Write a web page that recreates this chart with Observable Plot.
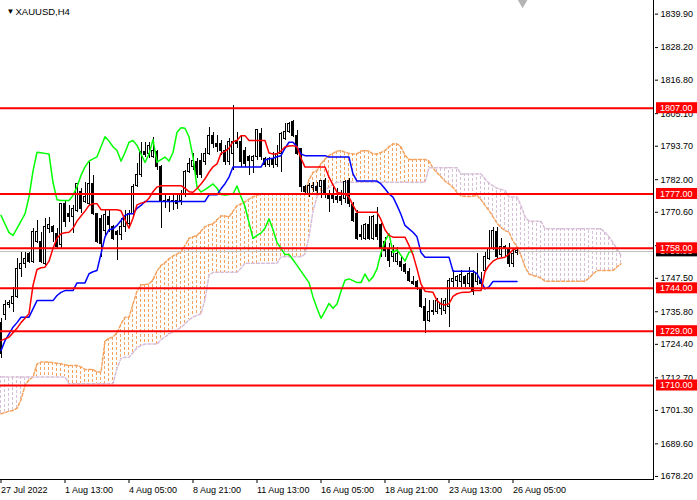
<!DOCTYPE html>
<html><head><meta charset="utf-8">
<script src="https://cdn.jsdelivr.net/npm/d3@7"></script>
<script src="https://cdn.jsdelivr.net/npm/@observablehq/plot@0.6"></script>
<style>
html,body{margin:0;padding:0;background:#fff;}
#chart svg{display:block}
</style></head><body><div id="chart"></div>
<script>
const symbolTitle = "XAUUSD,H4";

const opens = [1732,1734.5,1738,1738.6,1740.9,1750.8,1752.6,1756.1,1753.1,1760.1,1760.1,1752.6,1764.8,1765.4,1763.1,1759,1773.6,1770.1,1768.9,1771.2,1777.6,1774.1,1773.6,1780.6,1770.1,1768.3,1764.2,1768.9,1765.4,1763.6,1762.5,1765.4,1766.6,1770.1,1779.9,1783.5,1791.8,1791,1789.9,1791.6,1786.4,1774.7,1775,1774.7,1774.7,1774.7,1776.5,1784.6,1786.4,1788.1,1788.7,1788.1,1791,1797.4,1794.5,1794.5,1792.2,1788.1,1791,1795.7,1795.1,1792.2,1789.9,1788.7,1789.9,1798,1789.3,1787,1789.3,1787,1791,1796.3,1798.6,1802.1,1797.4,1792.8,1779.4,1776.5,1779.2,1779.4,1779.4,1781.7,1776.5,1776.5,1776.1,1775.9,1775.3,1781.7,1773,1770.1,1762.5,1761.3,1766,1761.3,1766,1766,1760.1,1757.8,1754.9,1753.1,1753.1,1752,1749.6,1746.1,1746.1,1743.8,1737.4,1732.7,1735.6,1735.6,1736.8,1736.2,1737.4,1746.1,1746.7,1746.1,1747.9,1745.6,1749.1,1746.1,1746.7,1750.2,1754.3,1757.8,1763.6,1755.5,1758.4,1757.8,1752.6,1756.4];
const highs = [1733.5,1739.7,1739.7,1744.4,1754.3,1756.6,1756.6,1756.6,1764.8,1767.7,1763.6,1768.3,1768.9,1766,1764.8,1773.6,1774.7,1773,1773,1780.6,1778.8,1781.1,1788.1,1783.5,1770.1,1769.5,1771.2,1771.2,1766,1764.2,1768.3,1771.2,1771.2,1780.2,1787.5,1795.1,1795.1,1795.1,1796.9,1792.2,1787,1776.5,1776,1776.5,1777,1778.2,1785.2,1789.3,1791.1,1789.3,1791.1,1792.8,1800.4,1798.6,1797.4,1795.7,1793.9,1796.3,1808.1,1798.6,1797.4,1793.4,1790.5,1790.5,1799.2,1799.8,1789.9,1789.9,1791.6,1793.9,1798.6,1801.5,1802.1,1802.7,1799.2,1792.8,1779.9,1780.6,1781.1,1781.1,1781.7,1782.3,1778.2,1779.4,1778.8,1778.2,1781.7,1782.3,1774.1,1771.2,1766,1766.6,1769,1769.5,1772.4,1766.6,1761.9,1759.6,1759,1758.4,1754.9,1752.6,1750.8,1748,1746.7,1744.4,1740.3,1739.7,1739.7,1740.3,1740.3,1740.3,1747.3,1750.2,1748.5,1750.2,1748.5,1751.4,1750.2,1756.1,1749.6,1756.6,1764.2,1765.4,1765.4,1761.3,1759,1759.6,1757.8,1757.8];
const lows = [1719.4,1732.7,1737,1735.6,1740.3,1747.9,1750.8,1752.6,1752.6,1759.6,1752.6,1752,1763.1,1760.1,1757.6,1757.8,1765.4,1767.1,1763.1,1770.6,1770.1,1773.6,1773,1769.5,1759.6,1754.9,1762.5,1763.6,1760.7,1753.7,1760.7,1763.6,1764.8,1768.9,1779.4,1782.9,1789.9,1789.3,1789.3,1785.2,1764.8,1771.8,1770.5,1771.2,1771.5,1773,1775.9,1784,1785.2,1782.3,1782.3,1786.8,1790.4,1792.8,1791.6,1790.4,1787,1787,1785.2,1792.8,1786.4,1786.4,1783.5,1784,1788.7,1788.7,1786.4,1786.4,1785.8,1786.4,1784.6,1795.7,1798,1796.9,1790.4,1777.6,1777,1775.9,1777.6,1776.5,1775.3,1775.3,1770.6,1773.6,1773.6,1773,1773.6,1772.4,1767.1,1760.7,1760.7,1760.7,1760.7,1760.7,1760.7,1754.9,1754.9,1751.4,1753,1752,1750,1749,1746.1,1745,1743.2,1736.8,1728.1,1732.1,1734.5,1735,1734.5,1735,1730.4,1744.4,1744.4,1744.4,1744.4,1744.4,1741.5,1745,1744.4,1749.6,1753.7,1757.2,1754.3,1754.9,1754.9,1751.4,1751.4,1755.5];
const closes = [1721,1738,1738.8,1740.9,1750.8,1752.6,1754.3,1753.1,1763.6,1763.6,1753.1,1765.4,1766,1763.6,1758.4,1773.6,1767.1,1768.9,1771.8,1780.6,1771.8,1775.9,1780.6,1770.1,1760.1,1759.6,1769.5,1766,1761.3,1762.5,1765.4,1768.3,1770.1,1779.6,1783.5,1791.6,1790.5,1793.9,1792.2,1786.4,1774.7,1774.1,1774.1,1774.1,1773.6,1776.5,1784.6,1787.5,1788.7,1783.5,1783.5,1791,1797.4,1794.5,1793.4,1792.2,1788.1,1795.1,1795.1,1794.5,1788.1,1787.5,1788.7,1789.9,1799.2,1789.9,1787,1789.3,1787,1791,1798,1798.6,1801.5,1797.4,1791,1779.4,1777.6,1779.9,1779.9,1778.2,1781.7,1776.5,1775.3,1775.3,1775,1774.7,1781.1,1773.6,1767.7,1761.3,1761.9,1766,1761.3,1768.9,1761.9,1757.8,1757.2,1753.7,1756.6,1756.1,1751.4,1749.6,1746.7,1745.6,1744.4,1737.4,1732.7,1735.6,1736.2,1739.7,1738.6,1739.7,1746.7,1747.3,1747.9,1748.5,1745.6,1749.1,1742.6,1749.1,1745.6,1754.9,1757.8,1764.2,1754.9,1758.4,1757.8,1752.6,1756.1,1756.9];

const tenkan = [1725.7,1726.3,1726.9,1728.5,1730,1732,1733.5,1735.1,1745,1750.6,1751.2,1751.4,1753.5,1758,1761.5,1763.1,1763.4,1763.6,1765,1767.5,1769.3,1771,1773,1773.6,1773.6,1771.5,1771.5,1771.5,1771.5,1771.5,1771.1,1768,1765,1768.5,1773.2,1773.8,1774.1,1775.5,1777.8,1779.4,1779.9,1779.9,1779.9,1779.9,1779.9,1779.9,1779,1777.8,1777.6,1778.9,1780.5,1782.3,1784.6,1786.5,1787.5,1791.2,1791.9,1793,1795.3,1795.7,1797.4,1797.4,1795.7,1795.7,1795.7,1795.7,1795.7,1791.3,1791,1791,1792,1793.4,1793.8,1793.9,1793.5,1789.5,1786.4,1786.4,1786.4,1786.4,1786.4,1786.4,1782.9,1780.2,1777.6,1777.3,1777,1775.9,1773,1770.6,1770.6,1770.6,1770.6,1770.6,1770.6,1768,1764.5,1762.5,1761.9,1761.9,1761.9,1761.9,1759,1755.8,1750.8,1745.5,1743,1742.8,1742.6,1739.7,1738.5,1738.2,1738.6,1741.2,1742.1,1742.5,1742.6,1742.6,1743.2,1743.2,1743.2,1749.8,1752,1753.5,1754.3,1754.6,1754.9,1756,1757.5,1758];
const kijun = [1722.2,1725.7,1728,1730.4,1732,1733.9,1733.9,1733.9,1736.8,1739.7,1739.7,1739.7,1739.7,1739.7,1741.5,1742.6,1743.2,1743.2,1743.2,1745.9,1745.9,1745.9,1749.1,1749.8,1750.2,1756.1,1762,1764.5,1764.8,1766,1767.7,1769.5,1770.1,1770.1,1772,1773,1774.4,1774.4,1774.4,1774.4,1774.4,1774.4,1774.4,1774.4,1774.4,1774.4,1774.4,1774.4,1774.4,1774.4,1774.4,1774.4,1776.7,1776.7,1776.7,1778.8,1780.6,1782.9,1786.4,1786.4,1786.4,1786.4,1786.4,1786.4,1786.4,1786.4,1788.9,1789.3,1789.5,1790,1790.4,1793,1795.1,1795.1,1793.5,1791,1790.4,1790.4,1790.4,1790.4,1790.4,1790.4,1789.9,1789.9,1789.9,1789.9,1789.9,1789.9,1784,1781.5,1781.5,1781.5,1781.5,1781.5,1781.5,1780.5,1778.8,1777,1775.9,1773,1769.8,1766,1764.8,1763.6,1762,1756.5,1754.9,1754.9,1754.9,1754.9,1754.9,1754.9,1754.9,1750,1750,1750,1750,1750,1750,1749.1,1746.5,1743.8,1744.5,1746.4,1746.4,1746.4,1746.4,1746.4,1746.4,1746.4];
const chikou = [1769.5,1766.5,1763.5,1762.5,1765,1767.5,1770,1776,1785,1791.6,1791.4,1791.2,1791,1781,1775,1774.7,1774.7,1774.7,1776.5,1779.5,1783.5,1786.5,1788.5,1789.3,1790,1793.5,1797,1795.5,1793.5,1792.2,1788.5,1791.5,1795.1,1795.7,1794,1791,1788,1791,1796,1788.1,1789,1789.9,1788.5,1791.5,1798.6,1800.2,1800,1797,1790,1779.4,1777.7,1778.5,1779.5,1780.5,1779,1776.8,1776.6,1776.8,1777,1779.8,1776,1772.6,1767,1761.5,1762.5,1763.3,1765,1768.3,1764.5,1760,1758,1755.8,1755.8,1754,1752,1750,1748,1746,1741,1737,1733.5,1736,1738.7,1737,1738.5,1743,1746.8,1747.3,1746.7,1746,1746,1749,1746.5,1748,1750.8,1756.5,1760.5,1763.1,1756.5,1757.5,1755.5,1753.5,1756.6,1757];
const senkouA = [1700.1,1700.5,1701,1701.3,1702,1705,1710,1712,1713,1717.5,1718.2,1718.2,1718.2,1718,1717.8,1717.6,1717.3,1717,1717,1717,1716.5,1715.6,1715.6,1715.6,1714.7,1714.7,1725.5,1726.6,1726.9,1728.5,1731.5,1733.9,1733.9,1738.5,1743,1745.2,1745.3,1745.5,1747,1750,1752,1753,1754.3,1755.3,1756,1756.8,1759,1761.5,1762,1762.5,1764,1765.5,1766.2,1766.6,1768,1769.3,1769.3,1769,1771,1772.9,1773.5,1774.2,1775.2,1776,1776.5,1777,1777,1777,1777,1777,1777,1777,1777,1777,1777,1777,1777,1782,1784.5,1785.2,1787.5,1789.2,1790.5,1791.2,1792,1792.2,1791.6,1791.2,1791,1791,1792,1792.2,1792,1791,1791,1791.5,1792.2,1793.5,1794.5,1794.5,1793.5,1790.5,1789.1,1789.1,1789.1,1789.1,1789.1,1788.5,1786,1784.5,1783,1781.5,1780.5,1779.3,1777.5,1776.3,1776.2,1776.1,1776.2,1776.5,1775,1773,1771.2,1769,1766.8,1765.3,1764.2,1763.6,1760.5,1758.5,1755.5,1751.5,1749,1748.5,1748.1,1747.6,1746.5,1746.5,1746.5,1746.5,1746.5,1746.5,1746.5,1746.5,1746.5,1746.5,1746.5,1747.5,1749,1750.2,1750.2,1750.2,1750.2,1750.2,1751.5,1752.6];
const senkouB = [1713,1713,1713,1713,1713,1713,1713,1713,1713,1713,1713,1713,1713,1713,1713,1713,1713,1710.6,1710.6,1710.6,1710.6,1710.6,1710.6,1710.6,1710.6,1710.6,1710.6,1710.6,1710.6,1716,1719.5,1719.9,1719.9,1721.5,1723.2,1724,1724.5,1724.5,1724.5,1724.5,1726,1727,1728,1728.7,1729.5,1730.3,1731.5,1733,1734,1734.5,1735.1,1740,1748.5,1749.6,1749.6,1749.6,1749.6,1749.6,1749.6,1749.6,1751,1752.8,1752.8,1752.8,1752.8,1752.8,1752.8,1752.8,1752.8,1752.8,1755,1755,1755,1755,1755,1755,1756,1762,1771,1776,1777.8,1778.5,1779.3,1780.3,1781.1,1781.1,1781.1,1781.1,1781.1,1781.1,1781.1,1781.1,1781.1,1781.1,1781.1,1781.1,1781.1,1781.1,1781.1,1781.1,1781.1,1781.1,1781.1,1781.1,1781.1,1781.1,1781.1,1786.2,1786.2,1786.2,1786.2,1786.2,1786.2,1786.2,1786.2,1784,1784,1784,1784,1784,1784,1782.3,1780.8,1779.8,1779,1778.6,1778.2,1775.9,1775.9,1775.9,1773,1769,1767.5,1767.5,1767.5,1767.5,1764.8,1764.8,1764.8,1764.8,1764.8,1764.8,1764.8,1764.8,1764.8,1764.8,1764.8,1764.8,1764.8,1764.8,1764.8,1763.5,1762,1760,1757.8,1755.5];

const levels = [1807, 1777, 1758, 1744, 1729, 1710];
const bidPrice = 1756.93;
const yTicks = [1839.90, 1828.20, 1816.80, 1805.10, 1793.70, 1782.00, 1770.60, 1758.90, 1747.50, 1735.80, 1724.40, 1712.70, 1701.30, 1689.60, 1678.20];
const xTickBars = [0, 16, 32, 48, 64, 80, 96, 112, 128];
const xTickLabels = ["27 Jul 2022", "1 Aug 13:00", "4 Aug 05:00", "8 Aug 21:00", "11 Aug 13:00", "16 Aug 05:00", "18 Aug 21:00", "23 Aug 13:00", "26 Aug 05:00"];
const shiftMarkerBar = 130.4;

const bars = opens.map((o, i) => ({i, o, h: highs[i], l: lows[i], c: closes[i]}));
const cloud = senkouA.map((a, i) => ({i, a, b: senkouB[i]}));

const ORANGE = "#F4A460", THISTLE = "#D8BFD8";
const FONT = "'Liberation Sans', Arial, sans-serif";

// cloud hatching: one dotted vertical line per bar between Senkou A and Senkou B, snapped to pixels
function cloudHatch(index, scales, values, dims) {
  const g = d3.create("svg:g").attr("stroke-dasharray", "3,2").attr("fill", "none");
  for (const d of cloud) {
    const x = Math.floor(scales.x(d.i)) + 0.5;
    const ya = Math.round(scales.y(d.a)), yb = Math.round(scales.y(d.b));
    if (ya === yb) continue;
    g.append("line").attr("x1", x).attr("x2", x).attr("y1", ya).attr("y2", yb)
      .attr("stroke", d.a >= d.b ? ORANGE : THISTLE);
  }
  return g.node();
}

function frameLines(index, scales, values, dims) {
  const g = d3.create("svg:g").attr("stroke", "#000").attr("shape-rendering", "crispEdges");
  const r = dims.width - dims.marginRight, b = dims.height - dims.marginBottom;
  g.append("line").attr("x1", 0).attr("x2", r).attr("y1", b + 0.5).attr("y2", b + 0.5);
  g.append("line").attr("x1", r - 0.5).attr("x2", r - 0.5).attr("y1", 0).attr("y2", b + 0.5);
  return g.node();
}

function priceBoxes(index, scales, values, dims) {
  const g = d3.create("svg:g").attr("font-family", FONT).attr("font-size", 9).attr("text-anchor", "start");
  const x0 = dims.width - dims.marginRight + 2;
  const items = [{v: bidPrice, fill: "#000"}, ...levels.map(v => ({v, fill: "#ff0000"}))];
  for (const it of items) {
    const y = scales.y(it.v);
    g.append("rect").attr("x", x0).attr("y", y - 5.5).attr("width", dims.width - x0).attr("height", 11).attr("fill", it.fill);
    g.append("text").attr("x", x0 + 4).attr("y", y).attr("dy", "0.36em").attr("text-anchor", "start").attr("fill", "#fff").text(it.v.toFixed(2));
  }
  return g.node();
}

const chart = Plot.plot({
  width: 697, height: 500,
  marginLeft: 0, marginRight: 43, marginTop: 0, marginBottom: 21,
  style: {fontFamily: FONT, fontSize: "9px", background: "#fff", color: "#000", overflow: "visible"},
  x: {type: "linear", domain: [-0.125, 163.375]},
  y: {type: "linear", domain: [1677.13, 1844.67]},
  marks: [
    cloudHatch,
    Plot.line(cloud, {x: "i", y: "a", stroke: ORANGE, strokeDasharray: "3,2"}),
    Plot.line(cloud, {x: "i", y: "b", stroke: THISTLE, strokeDasharray: "3,2"}),
    Plot.ruleY([bidPrice], {stroke: "#c0c0c0", shapeRendering: "crispEdges"}),
    Plot.ruleX(bars, {x: "i", y1: "l", y2: "h", stroke: "#000", shapeRendering: "crispEdges"}),
    Plot.rect(bars, {x1: d => d.i - 0.25, x2: d => d.i + 0.25, y1: "o", y2: "c", fill: d => d.c >= d.o ? "#fff" : "#000", stroke: "#000", shapeRendering: "crispEdges"}),
    Plot.line(chikou, {x: (d, i) => i, y: d => d, stroke: "#00ff00"}),
    Plot.line(kijun, {x: (d, i) => i, y: d => d, stroke: "#0000ff"}),
    Plot.line(tenkan, {x: (d, i) => i, y: d => d, stroke: "#ff0000"}),
    Plot.ruleY(levels, {stroke: "#ff0000", strokeWidth: 2}),
    frameLines,
    Plot.axisY({anchor: "right", ticks: yTicks, tickFormat: d => d.toFixed(2), tickSize: 3, tickPadding: 3, fontSize: 9, label: null}),
    Plot.axisX({anchor: "bottom", ticks: xTickBars, tickFormat: (d, i) => xTickLabels[i], tickSize: 4, tickPadding: 3, textAnchor: "start", fontSize: 9, label: null}),
    priceBoxes,
    Plot.text(["▼"], {frameAnchor: "top-left", dx: 6, dy: 8, fontSize: 8, fill: "#000"}),
    Plot.text([symbolTitle], {frameAnchor: "top-left", dx: 15, dy: 8, textAnchor: "start", fontSize: 9.5, fill: "#000"}),
    Plot.dot([shiftMarkerBar], {x: d => d, frameAnchor: "top", symbol: "triangle", rotate: 180, r: 5, fill: "#b4b4b4", stroke: null})
  ]
});
document.getElementById("chart").appendChild(chart);
</script>
</body></html>
